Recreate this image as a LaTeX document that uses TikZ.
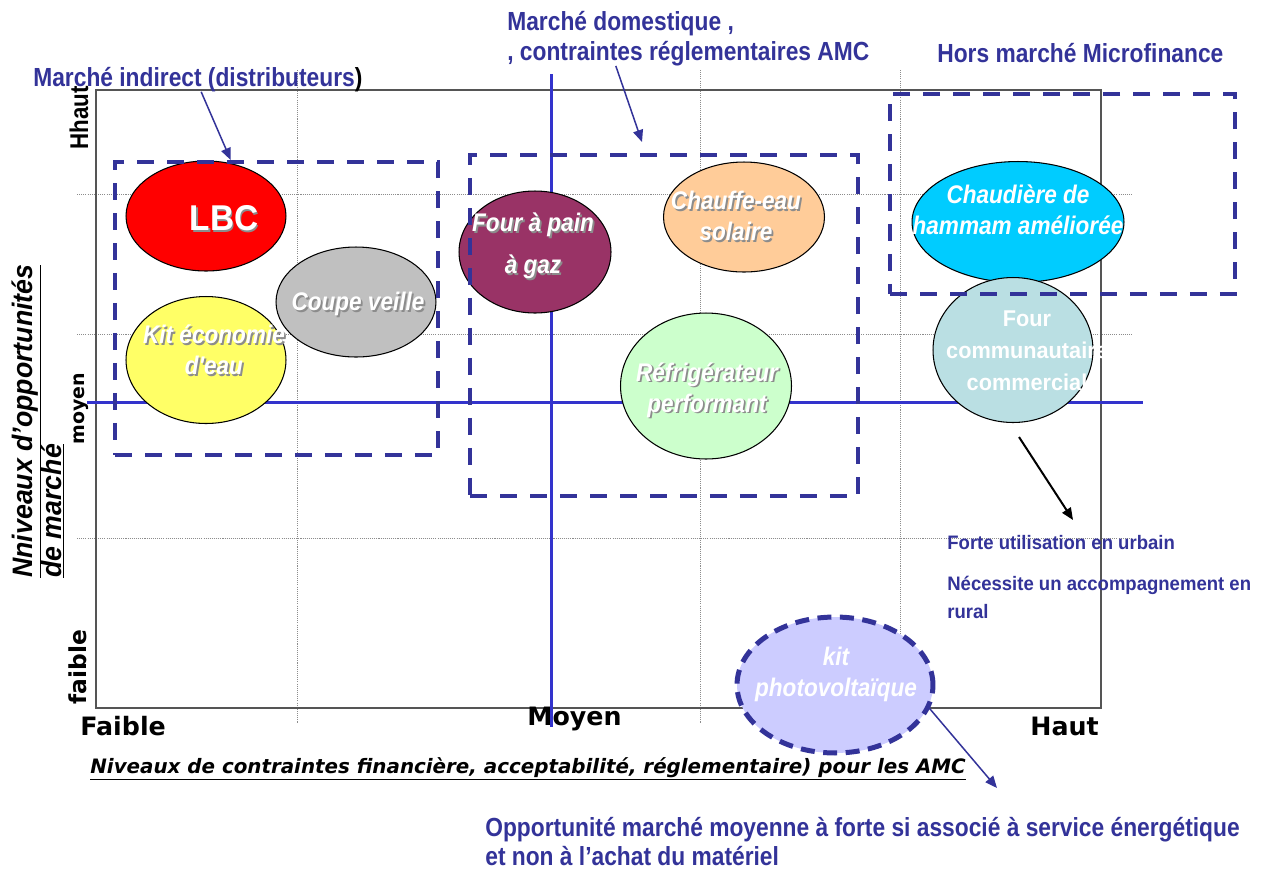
\documentclass[tikz,border=0pt]{standalone}
\usepackage{fontspec}
\setmainfont{Liberation Sans}
\newfontfamily\lblfont[FakeStretch=0.95]{Liberation Sans}
\newfontfamily\capfont[FakeStretch=0.87]{Liberation Sans}
\newfontfamily\ellfont[FakeStretch=0.886]{Liberation Sans}
\newfontfamily\bigfont[FakeStretch=0.93]{Liberation Sans}
\newfontfamily\axfont{DejaVu Sans}
\usetikzlibrary{shapes.geometric,arrows.meta,calc}

\definecolor{lblue}{HTML}{333399}
\definecolor{axblue}{HTML}{3333CC}
\definecolor{framegray}{HTML}{555555}
\definecolor{gridgray}{HTML}{8C8C8C}
\definecolor{cgray}{HTML}{C0C0C0}
\definecolor{cyellow}{HTML}{FFFF66}
\definecolor{cplum}{HTML}{993366}
\definecolor{capricot}{HTML}{FFCC99}
\definecolor{cmint}{HTML}{CCFFCC}
\definecolor{ccyan}{HTML}{00CCFF}
\definecolor{cteal}{HTML}{BADFE3}
\definecolor{clav}{HTML}{CCCCFF}

\tikzset{
  grid line/.style={gridgray, line width=0.5pt, dash pattern=on 0.6pt off 0.6pt},
  axis line/.style={axblue, line width=0.06cm},
  blob/.style={ellipse, draw=black, line width=0.6pt, inner sep=0pt},
  zone/.style={rectangle, draw=lblue, line width=0.08cm, dash pattern=on 0.34cm off 0.26cm, inner sep=0pt},
  lbl/.style={text=lblue, inner sep=0pt, font=\capfont\bfseries\fontsize{14.9}{17}\selectfont},
  note/.style={text=lblue, inner sep=0pt, font=\lblfont\bfseries\fontsize{11.1}{13}\selectfont},
  opp/.style={text=lblue, inner sep=0pt, font=\capfont\bfseries\fontsize{14.9}{17}\selectfont},
  axlab/.style={inner sep=0pt, font=\axfont\bfseries\fontsize{14.4}{17}\selectfont},
  xtitle/.style={inner sep=0pt, font=\axfont\bfseries\itshape\fontsize{11.3}{14}\selectfont},
  ytitle/.style={inner sep=0pt, rotate=90, font=\lblfont\bfseries\itshape\fontsize{16}{19}\selectfont},
  etxt/.style={text=white, align=center, inner sep=0pt, font=\ellfont\bfseries\itshape\fontsize{14.5}{17.6}\selectfont},
  utxt/.style={text=white, align=center, inner sep=0pt, font=\lblfont\bfseries\fontsize{13}{18.1}\selectfont},
  shade copy/.style={text=black!45, xshift=0.035cm, yshift=-0.035cm},
  link/.style={lblue, line width=0.03cm, -{Triangle[length=0.24cm, width=0.2cm]}},
  blink/.style={black, line width=0.04cm, -{Triangle[length=0.24cm, width=0.2cm]}},
}

\begin{document}
\begin{tikzpicture}[x=0.02cm, y=-0.02cm]
\useasboundingbox[fill=white] (0,0) rectangle (1268,870);

% dotted grid
\foreach \gx in {297,700,900} \draw[grid line] (\gx,70) -- (\gx,723);
\foreach \gy in {194,334,538} \draw[grid line] (77,\gy) -- (1133,\gy);

% plot frame
\draw[framegray, line width=0.04cm] (96,90) rectangle (1101,708);

% axis labels
\node[axlab, anchor=base west] (xlow) at (80,735) {Faible};
\node[axlab, anchor=base west] (xmid) at (527,725) {Moyen};
\node[axlab, anchor=base west] (xhigh) at (1030,735) {Haut};
\node[xtitle, anchor=base west] (xt) at (90,773)
  {\underline{Niveaux de contraintes financière, acceptabilité, réglementaire) pour les AMC}};
\node[rotate=90, anchor=base west, inner sep=0pt,
      font=\capfont\bfseries\fontsize{14.6}{17}\selectfont] (yhigh) at (88,150) {Hhaut};
\node[rotate=90, anchor=base west, inner sep=0pt,
      font=\axfont\bfseries\fontsize{10.8}{13}\selectfont] (ymid) at (84,445) {moyen};
\node[rotate=90, anchor=base west, inner sep=0pt,
      font=\axfont\bfseries\fontsize{13.3}{16}\selectfont] (ylow) at (86,705) {faible};
\node[ytitle, anchor=base west] (yt1) at (32,578) {\underline{Nniveaux d’opportunités}};
\node[ytitle, anchor=base west] (yt2) at (61,578) {\underline{de marché}};

% central axes
\draw[axis line] (87,402) -- (1143,402);
\draw[axis line] (551,74) -- (551,727);

% products
\node[blob, fill=red, minimum width=3.2cm, minimum height=2.2cm] (lbc) at (206,216) {};
\node[blob, fill=cgray, minimum width=3.2cm, minimum height=2.2cm] (coupe) at (356,302) {};
\node[blob, fill=cyellow, minimum width=3.2cm, minimum height=2.54cm] (kit) at (206,360) {};
\node[blob, fill=cplum, minimum width=3.04cm, minimum height=2.44cm] (four) at (535,252) {};
\node[blob, fill=capricot, minimum width=3.22cm, minimum height=2.2cm] (chauffe) at (744,217) {};
\node[blob, fill=cmint, minimum width=3.42cm, minimum height=2.92cm] (refrig) at (706,386) {};
\node[blob, fill=ccyan, minimum width=4.24cm, minimum height=2.42cm] (chaud) at (1018,222) {};
\node[blob, fill=cteal, minimum width=3.2cm, minimum height=2.9cm] (fourc) at (1013,350) {};
\node[ellipse, fill=clav, draw=lblue, line width=0.1cm, dash pattern=on 0.28cm off 0.17cm,
      inner sep=0pt, minimum width=3.92cm, minimum height=2.72cm] (pv) at (835,685) {};

% product names
\node[etxt, shade copy, font=\bigfont\bfseries\fontsize{20.4}{24}\selectfont] at (224,218) {LBC};
\node[etxt, font=\bigfont\bfseries\fontsize{20.4}{24}\selectfont] (lbc-t) at (224,218) {LBC};
\node[etxt, shade copy] at (358,304) {Coupe veille};
\node[etxt] (coupe-t) at (358,304) {Coupe veille};
\node[etxt, shade copy] at (214,350) {Kit économie\\d'eau};
\node[etxt] (kit-t) at (214,350) {Kit économie\\d'eau};
\node[etxt, shade copy] at (533,246) {Four à pain\\[0.22cm]à gaz};
\node[etxt] (four-t) at (533,246) {Four à pain\\[0.22cm]à gaz};
\node[etxt, shade copy] at (736,216) {Chauffe-eau\\solaire};
\node[etxt] (chauffe-t) at (736,216) {Chauffe-eau\\solaire};
\node[etxt, shade copy] at (707,390) {Réfrigérateur\\performant};
\node[etxt] (refrig-t) at (707,390) {Réfrigérateur\\performant};
\node[etxt] (chaud-t) at (1018,210) {Chaudière de\\hammam améliorée};
\node[utxt] (fourc-t) at (1027,351) {Four\\communautaire\\commercial};
\node[etxt] (pv-t) at (836,674) {kit\\photovoltaïque};

% market zones
\node[zone, minimum width=6.46cm, minimum height=5.86cm] (zind) at (276.5,308.5) {};
\node[zone, minimum width=7.76cm, minimum height=6.82cm] (zdom) at (664,325.5) {};
\node[zone, minimum width=6.9cm, minimum height=4cm] (zmf) at (1062.5,194) {};

% captions
\node[lbl, anchor=base west] (ind) at (33,86) {Marché indirect (distributeurs\textcolor{black}{)}};
\node[lbl, anchor=base west] (dom1) at (507,30) {Marché domestique ,};
\node[lbl, anchor=base west] (dom2) at (507,60) {, contraintes réglementaires AMC};
\node[lbl, anchor=base west] (mf) at (937,62) {Hors marché Microfinance};
\node[note, anchor=base west] (n1) at (947,549) {Forte utilisation en urbain};
\node[note, anchor=base west] (n2) at (947,590) {Nécessite un accompagnement en};
\node[note, anchor=base west] (n3) at (947,618) {rural};
\node[opp, anchor=base west] (o1) at (485,836) {Opportunité marché moyenne à forte si associé à service énergétique};
\node[opp, anchor=base west] (o2) at (485,865) {et non à l’achat du matériel};

% pointers
\coordinate (t1) at ($(zind.north west)!0.36!(zind.north east)$);
\draw[link] ($(ind.south west)!0.51!(ind.south east)$) -- (t1);
\coordinate (t2) at (642,142);
\draw[link] ($(dom2.south west)!0.3!(dom2.south east)$) -- (t2);
\coordinate (t3) at (1073,520);
\draw[blink] ([shift={(6,14)}]fourc.south) -- (t3);
\coordinate (t4) at (997,788);
\draw[link] (pv.-14) -- (t4);
\end{tikzpicture}
\end{document}
